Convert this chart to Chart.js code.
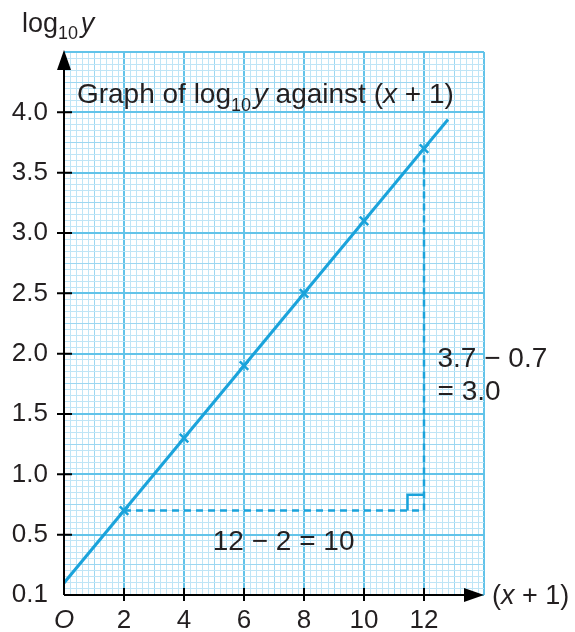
<!DOCTYPE html>
<html>
<head>
<meta charset="utf-8">
<script src="https://cdn.jsdelivr.net/npm/chart.js@4"></script>
<style>
  body { margin: 0; background: #fff; }
  #graph { display: block; }
</style>
</head>
<body>
<canvas id="graph" width="575" height="632"></canvas>
<script>
// points plotted on the graph paper: (x + 1) against log10 y
const xValues = [2, 4, 6, 8, 10, 12];
const logYValues = [0.7, 1.3, 1.9, 2.5, 3.1, 3.7];

const fitX = [0, 12.8];
const fitY = [0.1, 3.94];

// gradient triangle (dashed) + little right angle mark
const triX = [2, 12, 12];
const triY = [0.7, 0.7, 3.7];
const cornerX = [11.45, 11.45, 12];
const cornerY = [0.7, 0.83, 0.83];

// axis labels
const xTickValues = [0, 2, 4, 6, 8, 10, 12];
const xTickLabels = ['O', '2', '4', '6', '8', '10', '12'];
const yTickValues = [0, 0.5, 1, 1.5, 2, 2.5, 3, 3.5, 4];
const yTickLabels = ['0.1', '0.5', '1.0', '1.5', '2.0', '2.5', '3.0', '3.5', '4.0'];

const blue = '#1aa3db';
const ink = '#231f20';
const FONT = "'Liberation Sans', Arial, sans-serif";

function toPoints(xs, ys) {
  return xs.map((x, i) => ({ x: x, y: ys[i] }));
}

function findLabel(values, labels, v) {
  for (let i = 0; i < values.length; i++) {
    if (Math.abs(values[i] - v) < 1e-6) return labels[i];
  }
  return '';
}

function isMultiple(v, step) {
  const r = v / step;
  return Math.abs(r - Math.round(r)) < 1e-6;
}

// text made of pieces (normal / italic / subscript)
function drawRuns(ctx, runs, x, y, size) {
  ctx.textBaseline = 'alphabetic';
  ctx.textAlign = 'left';
  runs.forEach(r => {
    ctx.font = (r.italic ? 'italic ' : '') + (r.size || size) + 'px ' + FONT;
    ctx.fillText(r.t, x, y + (r.dy || 0));
    x += ctx.measureText(r.t).width;
  });
}

const paperPlugin = {
  id: 'paper',
  afterDraw(chart) {
    const ctx = chart.ctx;
    const xs = chart.scales.x, ys = chart.scales.y;
    const area = chart.chartArea;
    ctx.save();
    ctx.strokeStyle = '#000';
    ctx.fillStyle = '#000';
    ctx.lineWidth = 2;

    // axes
    ctx.beginPath();
    ctx.moveTo(area.left, area.bottom);
    ctx.lineTo(area.left, area.top + 16);
    ctx.moveTo(area.left, area.bottom);
    ctx.lineTo(area.right - 16, area.bottom);
    ctx.stroke();
    // arrow heads
    ctx.beginPath();
    ctx.moveTo(area.left, area.top - 2);
    ctx.lineTo(area.left - 7, area.top + 18);
    ctx.lineTo(area.left + 7, area.top + 18);
    ctx.closePath();
    ctx.fill();
    ctx.beginPath();
    ctx.moveTo(area.right, area.bottom);
    ctx.lineTo(area.right - 20, area.bottom - 7);
    ctx.lineTo(area.right - 20, area.bottom + 7);
    ctx.closePath();
    ctx.fill();

    // tick marks across the axes
    ctx.beginPath();
    yTickValues.forEach(v => {
      if (v === 0) return;
      const py = ys.getPixelForValue(v);
      ctx.moveTo(area.left - 7, py);
      ctx.lineTo(area.left + 8, py);
    });
    xTickValues.forEach(v => {
      if (v === 0) return;
      const px = xs.getPixelForValue(v);
      ctx.moveTo(px, area.bottom - 7);
      ctx.lineTo(px, area.bottom + 6);
    });
    ctx.stroke();

    // texts
    ctx.fillStyle = ink;
    drawRuns(ctx, [
      { t: 'log' }, { t: '10', size: 18, dy: 7 }, { t: ' ', size: 10 }, { t: 'y', italic: true }
    ], 22, 32, 27);

    drawRuns(ctx, [
      { t: 'Graph of log' }, { t: '10', size: 18, dy: 8 }, { t: ' ', size: 10 }, { t: 'y', italic: true },
      { t: ' against (' }, { t: 'x', italic: true }, { t: ' + 1)' }
    ], xs.getPixelForValue(0.43), ys.getPixelForValue(4.08), 28);

    drawRuns(ctx, [{ t: '12 \u2212 2 = 10' }], xs.getPixelForValue(4.96), ys.getPixelForValue(0.37), 28);
    drawRuns(ctx, [{ t: '3.7 \u2212 0.7' }], xs.getPixelForValue(12.45), ys.getPixelForValue(1.89), 28);
    drawRuns(ctx, [{ t: '= 3.0' }], xs.getPixelForValue(12.45), ys.getPixelForValue(1.62), 28);

    drawRuns(ctx, [{ t: '(' }, { t: 'x', italic: true }, { t: ' + 1)' }], area.right + 8, area.bottom + 9, 27);
    ctx.restore();
  }
};

const ctx = document.getElementById('graph').getContext('2d');
new Chart(ctx, {
  type: 'scatter',
  data: {
    datasets: [
      {
        data: toPoints(xValues, logYValues),
        showLine: false,
        pointStyle: 'crossRot',
        pointRadius: 6,
        pointBorderWidth: 2.5,
        borderColor: blue,
        backgroundColor: blue
      },
      {
        data: toPoints(fitX, fitY),
        showLine: true,
        borderColor: blue,
        borderWidth: 3,
        pointRadius: 0
      },
      {
        data: toPoints(triX, triY),
        showLine: true,
        borderColor: blue,
        borderWidth: 2.5,
        borderDash: [7, 5],
        pointRadius: 0
      },
      {
        data: toPoints(cornerX, cornerY),
        showLine: true,
        borderColor: blue,
        borderWidth: 2.5,
        pointRadius: 0
      }
    ]
  },
  options: {
    responsive: false,
    animation: false,
    layout: { padding: { left: 0, top: 52, right: 91, bottom: 0 } },
    plugins: { legend: { display: false }, tooltip: { enabled: false } },
    scales: {
      x: {
        type: 'linear',
        min: 0,
        max: 14,
        afterFit(scale) { scale.height = 37; },
        border: { display: false },
        grid: {
          drawTicks: false,
          color: c => isMultiple(c.tick.value, 2) ? '#62c3e9' : (isMultiple(c.tick.value, 1) ? '#9dd7f1' : '#bfe5f6'),
          lineWidth: c => isMultiple(c.tick.value, 2) ? 2 : 1
        },
        ticks: {
          stepSize: 0.2,
          autoSkip: false,
          maxRotation: 0,
          padding: 10,
          color: ink,
          font: c => ({ family: FONT, size: 26, style: (c.tick && c.tick.value === 0) ? 'italic' : 'normal' }),
          callback: v => findLabel(xTickValues, xTickLabels, v)
        }
      },
      y: {
        type: 'linear',
        min: 0,
        max: 4.5,
        afterFit(scale) { scale.width = 64; },
        border: { display: false },
        grid: {
          drawTicks: false,
          color: c => isMultiple(c.tick.value, 0.5) ? '#62c3e9' : (isMultiple(c.tick.value, 0.25) ? '#9dd7f1' : '#bfe5f6'),
          lineWidth: c => isMultiple(c.tick.value, 0.5) ? 2 : 1
        },
        ticks: {
          stepSize: 0.05,
          autoSkip: false,
          padding: 16,
          color: ink,
          font: { family: FONT, size: 26 },
          callback: v => findLabel(yTickValues, yTickLabels, v)
        }
      }
    }
  },
  plugins: [paperPlugin]
});
</script>
</body>
</html>
